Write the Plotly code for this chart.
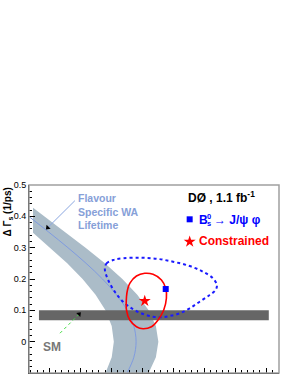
import plotly.graph_objects as go

# ---------------- data ----------------
# Flavour-specific WA lifetime band: upper / lower edges and central line
band_hi_dg = [-0.1, -0.05, 0.0, 0.05, 0.1, 0.15, 0.2, 0.25, 0.3, 0.35, 0.4, 0.427]
band_hi_tau = [1.4603, 1.4720, 1.4760, 1.4720, 1.4603, 1.4419, 1.4178, 1.3895, 1.3583, 1.3252, 1.2914, 1.2734]
band_lo_dg = [-0.1, -0.05, 0.0, 0.05, 0.1, 0.15, 0.2, 0.25, 0.3, 0.3475]
band_lo_tau = [1.3905, 1.4006, 1.4040, 1.4006, 1.3905, 1.3745, 1.3535, 1.3287, 1.3011, 1.2734]
center_dg = [-0.1, -0.05, 0.0, 0.05, 0.1, 0.15, 0.2, 0.25, 0.3, 0.35, 0.4]
center_tau = [1.4254, 1.4363, 1.4400, 1.4363, 1.4254, 1.4082, 1.3857, 1.3592, 1.3298, 1.2986, 1.2664]

# SM band
sm_tau = [1.283, 1.6545]
sm_dg = [0.068, 0.100]

# Bs -> J/psi phi contour (blue dotted)
bs_tau = [1.3895, 1.3923, 1.4029, 1.4190, 1.4460, 1.4729, 1.4997, 1.5266, 1.5481, 1.5642,
          1.5706, 1.5685, 1.5589, 1.5427, 1.5266, 1.5105, 1.4944, 1.4810, 1.4674, 1.4513,
          1.4352, 1.4190, 1.4056, 1.3948]
bs_dg = [0.2309, 0.2501, 0.2606, 0.2660, 0.2680, 0.2648, 0.2552, 0.2415, 0.2233, 0.2022,
         0.1808, 0.1649, 0.1489, 0.1275, 0.1064, 0.0905, 0.0819, 0.0777, 0.0796, 0.0883,
         0.1033, 0.1275, 0.1594, 0.1968]

# Constrained contour (red)
con_tau = [1.4540, 1.4674, 1.4810, 1.4879, 1.4890, 1.4847, 1.4755, 1.4648, 1.4513, 1.4406,
           1.4298, 1.4245, 1.4245, 1.4261, 1.4298, 1.4406]
con_dg = [0.2182, 0.2150, 0.1968, 0.1703, 0.1384, 0.1010, 0.0691, 0.0477, 0.0413, 0.0477,
          0.0691, 0.1010, 0.1435, 0.1649, 0.1862, 0.2095]

# central values
bs_point = (1.4879, 0.168)
con_point = (1.454, 0.130)

# arrows (tail -> tip)
fs_arrow_tau = [1.3411, 1.2971]
fs_arrow_dg = [0.450, 0.3637]
sm_arrow_tau = [1.317, 1.348]
sm_arrow_dg = [0.027, 0.088]

# axes
x_range = [1.2669, 1.6710]
y_range = [-0.1, 0.5]
y_ticks = [-0.1, 0.0, 0.1, 0.2, 0.3, 0.4, 0.5]
y_ticklabels = ["-0.1", "0", "0.1", "0.2", "0.3", "0.4", "0.5"]

FONT = "Liberation Sans, Arial, Helvetica, sans-serif"

fig = go.Figure()

# flavour-specific band
fig.add_trace(go.Scatter(
    x=band_hi_tau + band_lo_tau[::-1], y=band_hi_dg + band_lo_dg[::-1],
    mode="lines", fill="toself", fillcolor="#abbcc8", line=dict(width=0),
    hoverinfo="skip", showlegend=False))
# central line
fig.add_trace(go.Scatter(
    x=center_tau, y=center_dg, mode="lines", line=dict(color="#7f9be0", width=1, shape="spline"),
    hoverinfo="skip", showlegend=False))
# SM band
fig.add_trace(go.Scatter(
    x=[sm_tau[0], sm_tau[1], sm_tau[1], sm_tau[0], sm_tau[0]],
    y=[sm_dg[0], sm_dg[0], sm_dg[1], sm_dg[1], sm_dg[0]],
    mode="lines", fill="toself", fillcolor="#666666", line=dict(width=0),
    hoverinfo="skip", showlegend=False))
# blue dotted contour
fig.add_trace(go.Scatter(
    x=bs_tau + bs_tau[:1], y=bs_dg + bs_dg[:1], mode="lines",
    line=dict(color="#1a1aff", width=2, dash="dot", shape="spline"),
    hoverinfo="skip", showlegend=False))
# red contour
fig.add_trace(go.Scatter(
    x=con_tau + con_tau[:1], y=con_dg + con_dg[:1], mode="lines",
    line=dict(color="#ff0000", width=1.6, shape="spline"),
    hoverinfo="skip", showlegend=False))
# central points
fig.add_trace(go.Scatter(x=[bs_point[0]], y=[bs_point[1]], mode="markers",
                         marker=dict(symbol="square", size=6, color="#0000ff"),
                         hoverinfo="skip", showlegend=False))
fig.add_trace(go.Scatter(x=[con_point[0]], y=[con_point[1]], mode="markers",
                         marker=dict(symbol="star", size=9, color="#ff0000", line=dict(width=0)),
                         hoverinfo="skip", showlegend=False))
# arrows
fig.add_trace(go.Scatter(x=fs_arrow_tau, y=fs_arrow_dg, mode="lines",
                         line=dict(color="#8aa6e0", width=1), hoverinfo="skip", showlegend=False))
fig.add_trace(go.Scatter(x=[fs_arrow_tau[1]], y=[fs_arrow_dg[1]], mode="markers",
                         marker=dict(symbol="triangle-up", size=5, angle=225, color="black"),
                         hoverinfo="skip", showlegend=False))
fig.add_trace(go.Scatter(x=sm_arrow_tau, y=sm_arrow_dg, mode="lines",
                         line=dict(color="#44dd44", width=1, dash="dot"), hoverinfo="skip", showlegend=False))
fig.add_trace(go.Scatter(x=[sm_arrow_tau[1]], y=[sm_arrow_dg[1]], mode="markers",
                         marker=dict(symbol="triangle-up", size=5, angle=45, color="black"),
                         hoverinfo="skip", showlegend=False))

# legend-like markers
fig.add_trace(go.Scatter(x=[1.5266], y=[0.3905], mode="markers",
                         marker=dict(symbol="square", size=6, color="#0000ff"),
                         hoverinfo="skip", showlegend=False))
fig.add_trace(go.Scatter(x=[1.5266], y=[0.319], mode="markers",
                         marker=dict(symbol="star", size=9, color="#ff0000", line=dict(width=0)),
                         hoverinfo="skip", showlegend=False))

ann = []
def txt(x, y, s, size, color, bold=True, xanchor="left", yanchor="middle", xref="x", yref="y", angle=0, align="left"):
    ann.append(dict(x=x, y=y, xref=xref, yref=yref, text=("<b>%s</b>" % s) if bold else s,
                    showarrow=False, xanchor=xanchor, yanchor=yanchor, textangle=angle, align=align,
                    borderpad=0, font=dict(family=FONT, size=size, color=color)))

txt(1.3439, 0.4154, "Flavour<br>Specific WA<br>Lifetime", 10.5, "#86a0d8")
txt(1.3045, -0.016, "SM", 12, "#777777", xanchor="center")
txt(1.5223, 0.4627, "DØ , 1.1 fb<sup>-1</sup>", 12, "black")
txt(1.5400, 0.3883, "B", 12, "#0000ff")
txt(1.5528, 0.4010, "0", 7.5, "#0000ff")
txt(1.5528, 0.3770, "s", 7.5, "#0000ff")
txt(1.5640, 0.3883, "→ J/ψ φ", 12, "#0000ff")
txt(1.5400, 0.3213, "Constrained", 12, "#ff0000")
# y-axis title
txt(-0.0878, 0.8537, "Δ Γ<sub>s</sub> (1/ps)", 10, "black", xanchor="center", xref="paper", yref="paper", angle=-90)

fig.update_layout(
    width=306, height=377,
    margin=dict(l=29, r=26.5, t=185, b=4, pad=0),
    paper_bgcolor="white", plot_bgcolor="white",
    annotations=ann,
    shapes=[dict(type="rect", xref="paper", yref="paper", x0=0, y0=0, x1=1, y1=1,
                 line=dict(color="#a0a0a0", width=1.5), layer="above")],
    xaxis=dict(range=x_range, showgrid=False, zeroline=False, showline=True, linecolor="black",
               linewidth=1, mirror=False, ticks="inside", ticklen=5, tickcolor="black",
               tick0=1.30, dtick=0.05, showticklabels=False, automargin=False,
               minor=dict(ticks="inside", ticklen=3, tick0=1.30, dtick=0.01, tickcolor="black")),
    yaxis=dict(range=y_range, showgrid=False, zeroline=False, showline=True, linecolor="black",
               linewidth=1, ticks="inside", ticklen=6, tickcolor="black", automargin=False,
               tickvals=y_ticks, ticktext=y_ticklabels,
               tickfont=dict(family=FONT, size=9, color="black"),
               minor=dict(ticks="inside", ticklen=3, tick0=0, dtick=0.02, tickcolor="black")),
)

fig.write_html("out.html", config={"displayModeBar": False},
               post_script="document.body.style.margin='0';document.body.style.padding='0';")
